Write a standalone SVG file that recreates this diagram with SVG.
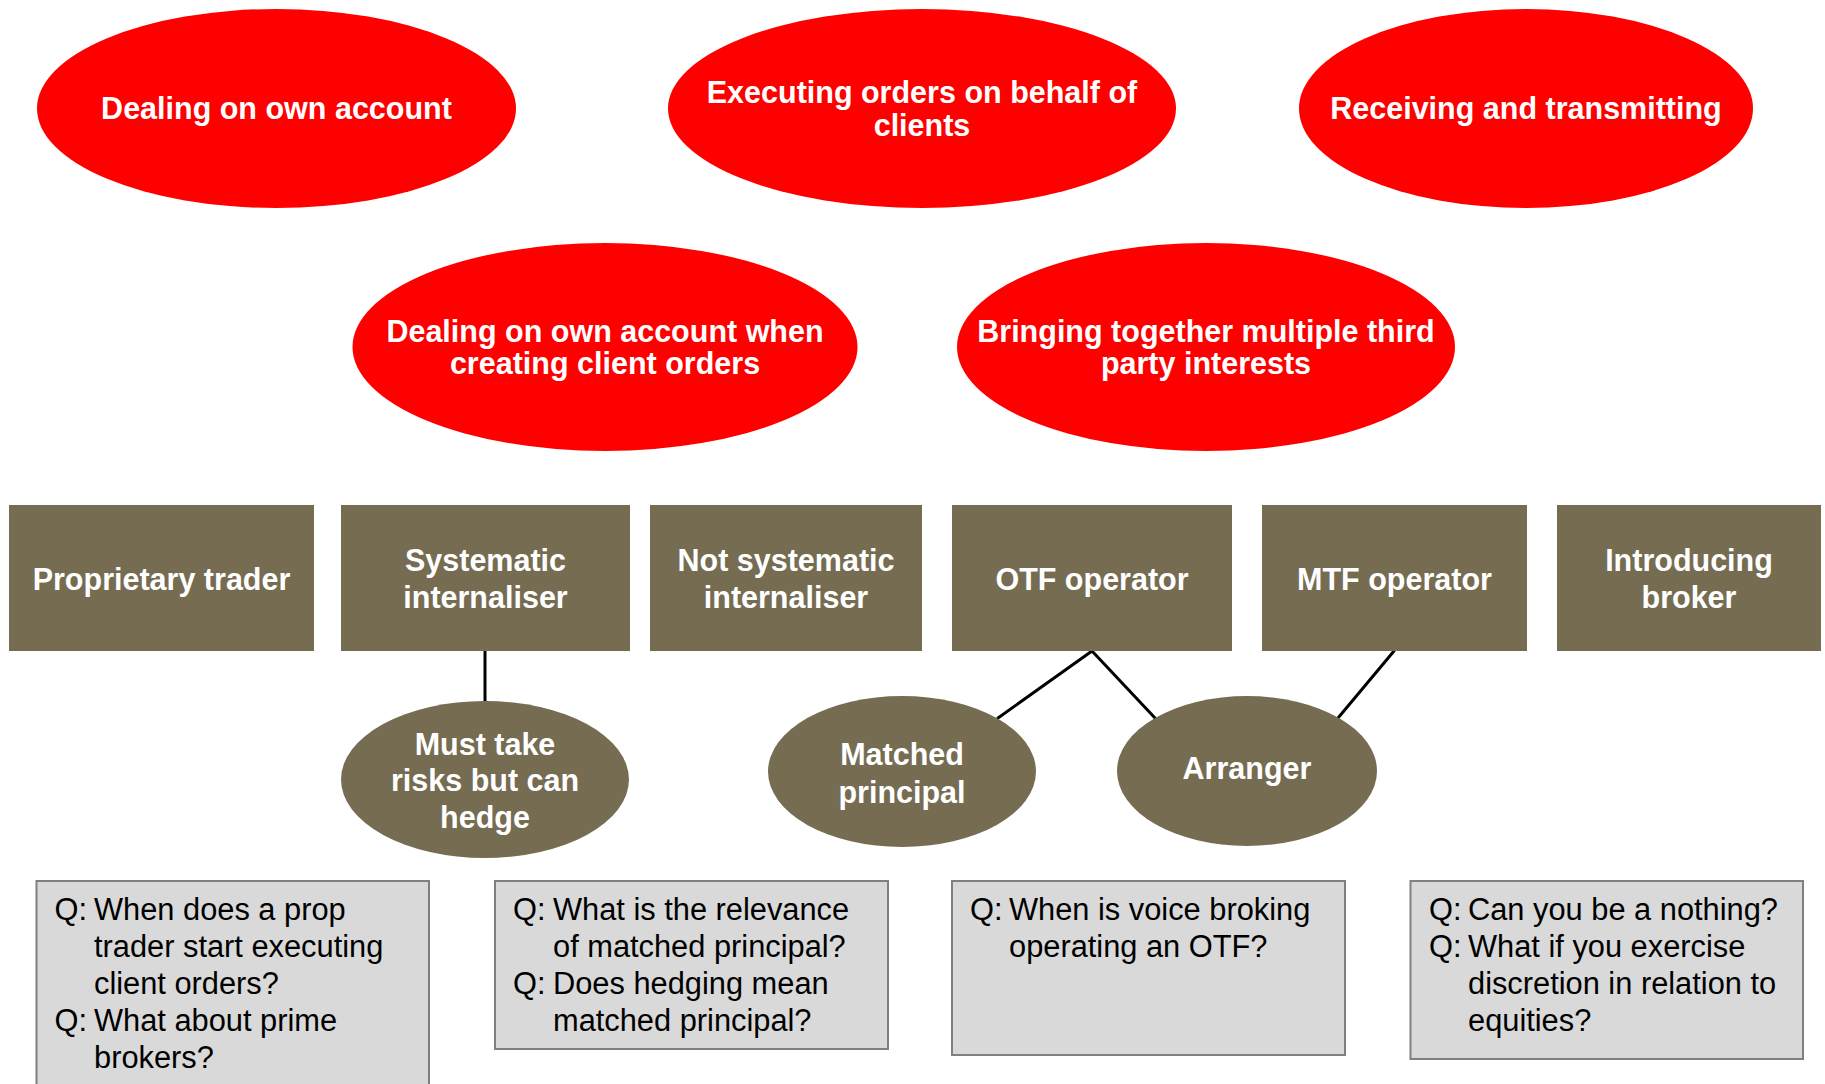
<svg xmlns="http://www.w3.org/2000/svg" width="1825" height="1084" viewBox="0 0 1825 1084">
  <style>
    .red { fill: #ff0000; }
    .olive { fill: #766c52; }
    .qbox { fill: #d9d9d9; stroke: #808080; stroke-width: 2; }
    .lbl { font-family: "Liberation Sans", Arial, sans-serif; font-weight: bold; font-size: 30.5px; fill: #ffffff; text-anchor: middle; }
    .q { font-family: "Liberation Sans", Arial, sans-serif; font-size: 30.8px; fill: #000000; }
    .link { stroke: #000000; stroke-width: 3; fill: none; stroke-linecap: round; }
  </style>
  <rect width="1825" height="1084" fill="#ffffff"/>

  <!-- connectors -->
  <g id="connectors">
    <line class="link" x1="485" y1="651" x2="485" y2="701"/>
    <line class="link" x1="1092" y1="651" x2="998" y2="718"/>
    <line class="link" x1="1092" y1="651" x2="1155" y2="718"/>
    <line class="link" x1="1394" y1="651" x2="1338" y2="718"/>
  </g>

  <!-- activity ellipses -->
  <g id="dealing-own-account">
    <ellipse class="red" cx="276.5" cy="108.5" rx="239.5" ry="99.5"/>
    <text class="lbl" x="276.5" y="119">Dealing on own account</text>
  </g>
  <g id="executing-orders">
    <ellipse class="red" cx="922" cy="108.5" rx="254" ry="99.5"/>
    <text class="lbl" x="922" y="103">Executing orders on behalf of</text>
    <text class="lbl" x="922" y="136">clients</text>
  </g>
  <g id="receiving-transmitting">
    <ellipse class="red" cx="1526" cy="108.5" rx="227" ry="99.5"/>
    <text class="lbl" x="1526" y="119">Receiving and transmitting</text>
  </g>
  <g id="dealing-client-orders">
    <ellipse class="red" cx="605" cy="347" rx="252.5" ry="104"/>
    <text class="lbl" x="605" y="341.5">Dealing on own account when</text>
    <text class="lbl" x="605" y="374">creating client orders</text>
  </g>
  <g id="bringing-together">
    <ellipse class="red" cx="1206" cy="347" rx="249" ry="104"/>
    <text class="lbl" x="1206" y="341.5">Bringing together multiple third</text>
    <text class="lbl" x="1206" y="374">party interests</text>
  </g>

  <!-- role boxes -->
  <g id="proprietary-trader">
    <rect class="olive" x="9" y="505" width="305" height="146"/>
    <text class="lbl" x="161.5" y="589.5">Proprietary trader</text>
  </g>
  <g id="systematic-internaliser">
    <rect class="olive" x="341" y="505" width="289" height="146"/>
    <text class="lbl" x="485.5" y="571">Systematic</text>
    <text class="lbl" x="485.5" y="608">internaliser</text>
  </g>
  <g id="not-systematic-internaliser">
    <rect class="olive" x="650" y="505" width="272" height="146"/>
    <text class="lbl" x="786" y="571">Not systematic</text>
    <text class="lbl" x="786" y="608">internaliser</text>
  </g>
  <g id="otf-operator">
    <rect class="olive" x="952" y="505" width="280" height="146"/>
    <text class="lbl" x="1092" y="589.5">OTF operator</text>
  </g>
  <g id="mtf-operator">
    <rect class="olive" x="1262" y="505" width="265" height="146"/>
    <text class="lbl" x="1394.5" y="589.5">MTF operator</text>
  </g>
  <g id="introducing-broker">
    <rect class="olive" x="1557" y="505" width="264" height="146"/>
    <text class="lbl" x="1689" y="571">Introducing</text>
    <text class="lbl" x="1689" y="608">broker</text>
  </g>

  <!-- sub-role ellipses -->
  <g id="must-take-risks">
    <ellipse class="olive" cx="485" cy="779.5" rx="144" ry="78.5"/>
    <text class="lbl" x="485" y="754.5">Must take</text>
    <text class="lbl" x="485" y="791">risks but can</text>
    <text class="lbl" x="485" y="828">hedge</text>
  </g>
  <g id="matched-principal">
    <ellipse class="olive" cx="902" cy="771.5" rx="134" ry="75.5"/>
    <text class="lbl" x="902" y="765">Matched</text>
    <text class="lbl" x="902" y="802.5">principal</text>
  </g>
  <g id="arranger">
    <ellipse class="olive" cx="1247" cy="771" rx="130" ry="75"/>
    <text class="lbl" x="1247" y="779">Arranger</text>
  </g>

  <!-- question boxes -->
  <g id="questions-prop-trader">
    <rect class="qbox" x="36.5" y="881" width="392.5" height="215"/>
    <text class="q" x="54.5" y="920">Q:</text>
    <text class="q" x="94" y="920">When does a prop</text>
    <text class="q" x="94" y="957">trader start executing</text>
    <text class="q" x="94" y="994">client orders?</text>
    <text class="q" x="54.5" y="1031">Q:</text>
    <text class="q" x="94" y="1031">What about prime</text>
    <text class="q" x="94" y="1068">brokers?</text>
  </g>
  <g id="questions-matched-principal">
    <rect class="qbox" x="495" y="881" width="393" height="168"/>
    <text class="q" x="513" y="920">Q:</text>
    <text class="q" x="553" y="920">What is the relevance</text>
    <text class="q" x="553" y="957">of matched principal?</text>
    <text class="q" x="513" y="994">Q:</text>
    <text class="q" x="553" y="994">Does hedging mean</text>
    <text class="q" x="553" y="1031">matched principal?</text>
  </g>
  <g id="questions-voice-broking">
    <rect class="qbox" x="952" y="881" width="393" height="174"/>
    <text class="q" x="970" y="920">Q:</text>
    <text class="q" x="1009" y="920">When is voice broking</text>
    <text class="q" x="1009" y="957">operating an OTF?</text>
  </g>
  <g id="questions-nothing">
    <rect class="qbox" x="1410.5" y="881" width="392.5" height="178"/>
    <text class="q" x="1429" y="920">Q:</text>
    <text class="q" x="1468" y="920">Can you be a nothing?</text>
    <text class="q" x="1429" y="957">Q:</text>
    <text class="q" x="1468" y="957">What if you exercise</text>
    <text class="q" x="1468" y="994">discretion in relation to</text>
    <text class="q" x="1468" y="1031">equities?</text>
  </g>
</svg>
